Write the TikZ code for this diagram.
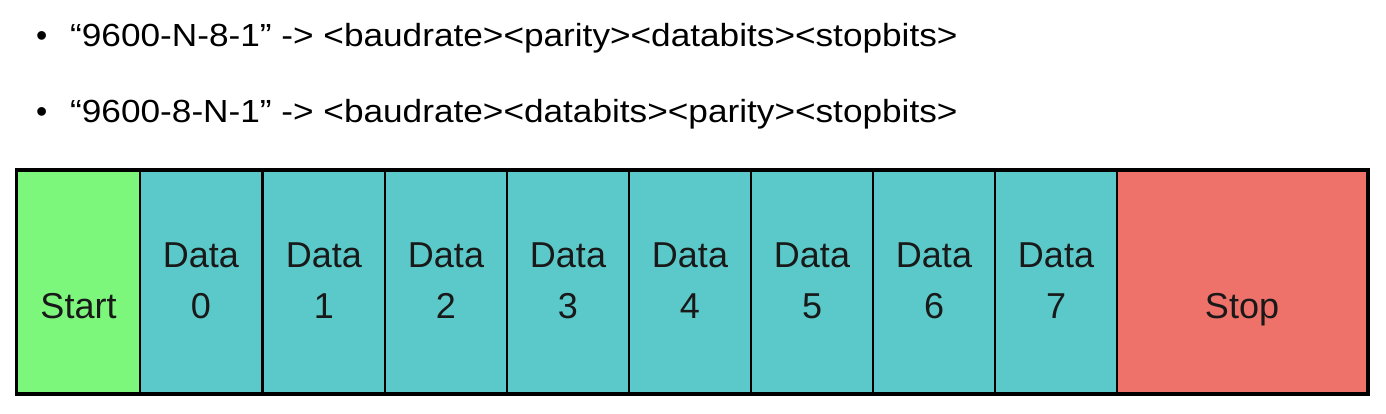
\documentclass[tikz,border=0pt]{standalone}
\usepackage{fontspec}
\setmainfont{Liberation Sans}
\definecolor{startgreen}{HTML}{7CF77C}
\definecolor{datateal}{HTML}{5BC9C9}
\definecolor{stopred}{HTML}{EE716A}
\begin{document}
\begin{tikzpicture}[x=1pt,y=-1pt,
  cell/.style={draw=black, line width=2pt, minimum height=222pt, inner sep=0pt, anchor=center},
  lbl/.style={font=\fontsize{36}{51}\selectfont, text=black!90, align=center, inner sep=0pt},
  bul/.style={font=\fontsize{32}{36}\selectfont, anchor=base west, inner sep=0pt}]
\useasboundingbox (0,0) rectangle (1386,414);
% bullets
\node[bul] (b1) at (36,47) {\textbullet};
\node[bul] (t1) at (70,47) {\scalebox{1.1}[1]{“9600-N-8-1” -> <baudrate><parity><databits><stopbits>}};
\node[bul] (b2) at (36,123) {\textbullet};
\node[bul] (t2) at (70,123) {\scalebox{1.1}[1]{“9600-8-N-1” -> <baudrate><databits><parity><stopbits>}};
% cells
\node[cell, fill=startgreen, minimum width=123pt] (start) at (78.5,282) {};
\foreach \i/\x in {0/140,1/263,2/385,3/507,4/629,5/751,6/873,7/995}{
  \node[cell, fill=datateal, minimum width=122pt] (d\i) at (\x+61,282) {};
  \node[lbl, anchor=base] (ld\i) at (\x+61,318) {Data\\\i};
}
\node[cell, fill=stopred, minimum width=250pt] (stop) at (1242,282) {};
\node[lbl, anchor=base] (lstart) at (78.5,318) {Start};
\node[lbl, anchor=base] (lstop) at (1242,318) {Stop};
\draw[line width=3pt] (start.north west) rectangle (stop.south east);
\end{tikzpicture}
\end{document}
